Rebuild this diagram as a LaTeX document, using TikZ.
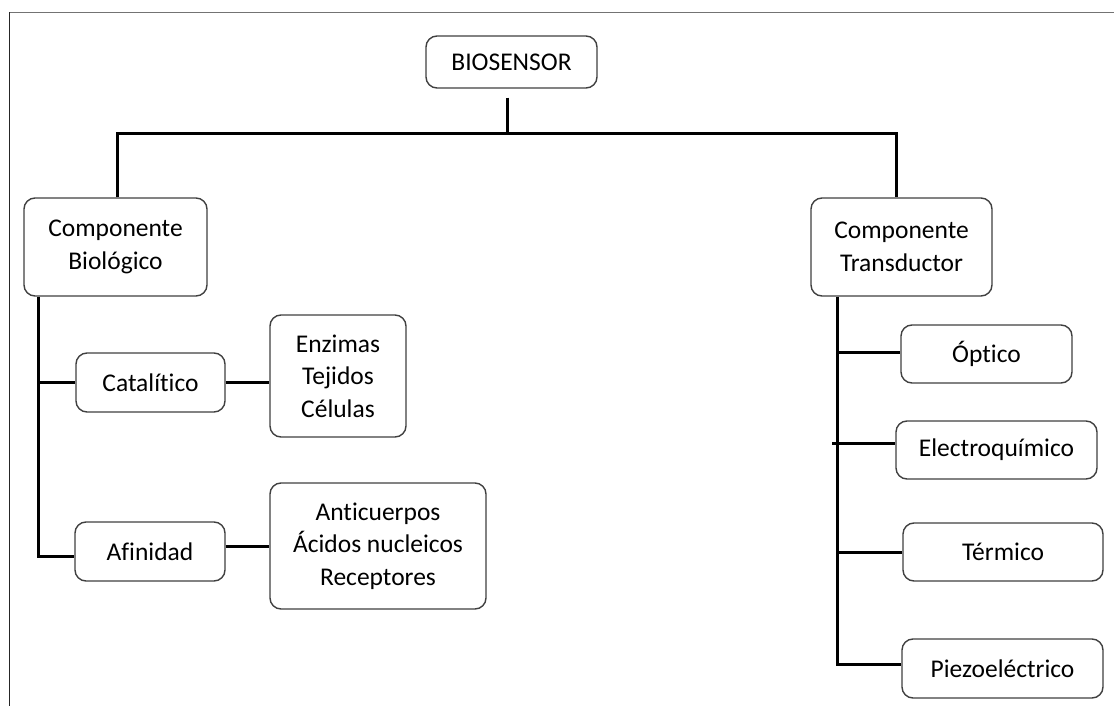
\documentclass[tikz,border=0pt]{standalone}
\usepackage{fontspec}
\setmainfont{Carlito}[Ligatures=NoCommon]
\tikzset{
  box/.style={draw=black!75, line width=1.4pt, rounded corners=11pt, fill=white,
    align=center, inner sep=0pt, font=\fontsize{25.5}{32.5}\selectfont},
  link/.style={black, line width=3pt},
  frame/.style={line width=1.4pt}
}
\begin{document}
\begin{tikzpicture}[x=1pt,y=-1pt]
  \useasboundingbox (0,0) rectangle (1114,706);
  % page frame
  \draw[frame,black!55] (9.5,12.5) -- (1114,12.5);
  \draw[frame,black!85] (9.5,12.5) -- (9.5,706);

  % boxes
  \node[box, minimum width=171pt, minimum height=52pt] (bio) at (511.5,62) {BIOSENSOR};
  \node[box, minimum width=183pt, minimum height=98pt] (cbio) at (115.5,247) {Componente\\Biológico};
  \node[box, minimum width=181pt, minimum height=98pt] (ctra) at (901.5,247) {Componente\\Transductor};
  \node[box, minimum width=149pt, minimum height=59pt] (cat) at (150.5,382.5) {Catalítico};
  \node[box, minimum width=136pt, minimum height=122pt] (enz) at (338,376) {Enzimas\\Tejidos\\Células};
  \node[box, minimum width=150pt, minimum height=59pt] (afi) at (150,551.5) {Afinidad};
  \node[box, minimum width=216pt, minimum height=126pt] (ant) at (378,546) {Anticuerpos\\Ácidos nucleicos\\Receptores};
  \node[box, minimum width=171pt, minimum height=58pt] (opt) at (986.5,354) {Óptico};
  \node[box, minimum width=201pt, minimum height=58pt] (ele) at (996.5,450) {Electroquímico};
  \node[box, minimum width=200pt, minimum height=58pt] (ter) at (1003,552) {Térmico};
  \node[box, minimum width=201pt, minimum height=59pt] (pie) at (1002.5,668.5) {Piezoeléctrico};

  % connector points
  \coordinate (hub) at (507,134);
  \coordinate (lft) at (117,134);
  \coordinate (rgt) at (896,134);
  \coordinate (ltr) at (38,0);
  \coordinate (rtr) at (837,0);

  % top level
  \draw[link] ([yshift=-9pt]bio.south -| hub) -- (hub);
  \draw[link] (cbio.north -| lft) -- (lft) -- (rgt) -- (ctra.north -| rgt);

  % biological branch
  \draw[link] (cbio.south -| ltr) -- ([yshift=-4.5pt]ltr |- afi.west) -- ([yshift=-4.5pt]afi.west);
  \draw[link] (ltr |- cat.west) -- (cat.west);
  \draw[link] (cat.east) -- (cat.east -| enz.west);
  \draw[link] (ant.west -| afi.east) -- (ant.west);

  % transducer branch
  \draw[link] (ctra.south -| rtr) -- ([yshift=4.5pt]rtr |- pie.west) -- ([yshift=4.5pt]pie.west);
  \draw[link] ([yshift=2pt]rtr |- opt.west) -- ([yshift=2pt]opt.west);
  \draw[link] ([xshift=-5pt,yshift=7pt]rtr |- ele.west) -- ([yshift=7pt]ele.west);
  \draw[link] (rtr |- ter.west) -- (ter.west);
\end{tikzpicture}
\end{document}
